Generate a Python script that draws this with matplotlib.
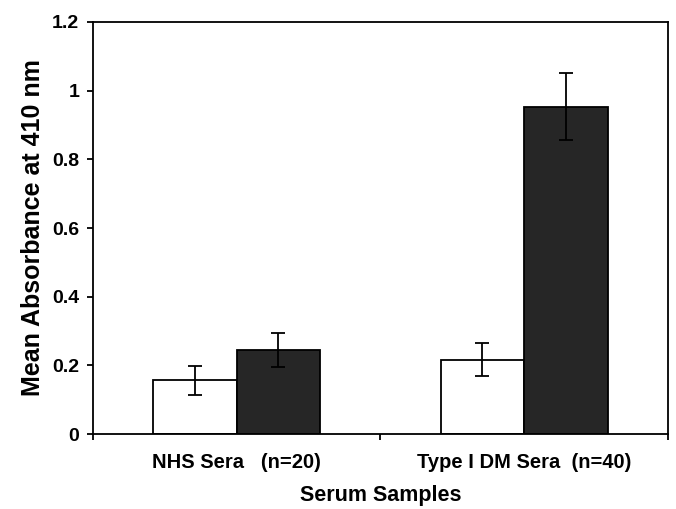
import matplotlib
matplotlib.use("Agg")
import matplotlib.pyplot as plt
import numpy as np

categories = ["NHS Sera   (n=20)", "Type I DM Sera  (n=40)"]
white_vals = [0.156, 0.217]
white_err = [0.042, 0.048]
dark_vals = [0.245, 0.953]
dark_err = [0.049, 0.098]
yticks = [0, 0.2, 0.4, 0.6, 0.8, 1.0, 1.2]
ytick_labels = ["0", "0.2", "0.4", "0.6", "0.8", "1", "1.2"]

plt.rcParams['font.family'] = ['Liberation Sans', 'DejaVu Sans']
plt.rcParams['font.weight'] = 'bold'

fig = plt.figure(figsize=(6.76, 5.09), dpi=100)
ax = fig.add_axes([0.1376, 0.1473, 0.8504, 0.8095])

x = np.arange(len(categories))
w = 0.29
ekw = dict(elinewidth=1.3, capthick=1.3, ecolor='black')
ax.bar(x - w/2, white_vals, w, color='white', edgecolor='black', linewidth=1.3,
       yerr=white_err, capsize=5, error_kw=ekw)
ax.bar(x + w/2, dark_vals, w, color='#262626', edgecolor='black', linewidth=1.3,
       yerr=dark_err, capsize=5, error_kw=ekw)

ax.set_xlim(-0.5, 1.5)
ax.set_ylim(0, 1.2)
ax.set_yticks(yticks)
ax.set_yticklabels(ytick_labels, fontsize=14, fontweight='bold')
ax.set_xticks([-0.5, 0.5, 1.5])
ax.set_xticklabels([])
ax.set_xticks(x, minor=True)
ax.set_xticklabels(categories, minor=True, fontsize=14.5, fontweight='bold')
ax.tick_params(axis='x', which='minor', length=0, pad=14)
ax.tick_params(axis='x', which='major', direction='out', length=4, width=1.3)
ax.tick_params(axis='y', direction='out', length=4, width=1.3, pad=6)
for s in ax.spines.values():
    s.set_linewidth(1.3)

ax.set_ylabel("Mean Absorbance at 410 nm", fontsize=18, fontweight='bold', labelpad=5)
ax.set_xlabel("Serum Samples", fontsize=15.5, fontweight='bold', labelpad=9)

fig.savefig("out.png", dpi=100)
